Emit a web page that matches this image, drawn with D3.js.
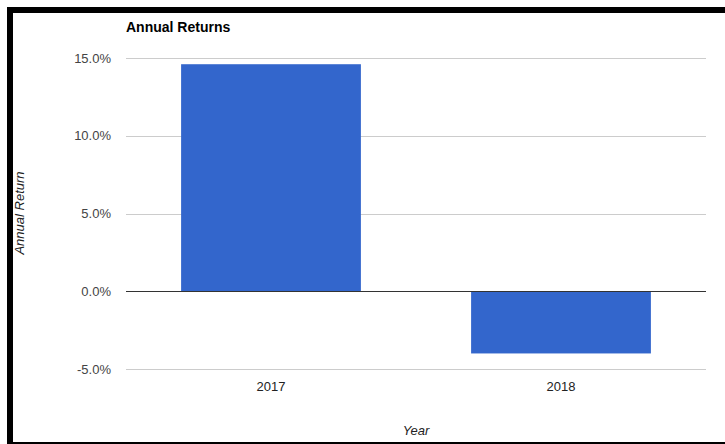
<!DOCTYPE html>
<html>
<head>
<meta charset="utf-8">
<script src="https://cdn.jsdelivr.net/npm/d3@7"></script>
<style>
    body { margin: 0; background: #fff; }
    text { font-family: "Liberation Sans", Arial, sans-serif; }
</style>
</head>
<body>
<div id="chart"></div>
<script>
// data
const years = ['2017', '2018'];
const returns = [0.146, -0.040];
const yTicks = [-0.05, 0, 0.05, 0.10, 0.15];

const width = 725, height = 444;
const margin = { top: 58, right: 19, bottom: 75, left: 126 };
const innerW = width - margin.left - margin.right;

const svg = d3.select('#chart').append('svg')
    .attr('width', width)
    .attr('height', height);

// frame round the picture (top, left, bottom)
svg.append('rect').attr('x', 7).attr('y', 7).attr('width', width - 7).attr('height', 6).attr('fill', '#000');
svg.append('rect').attr('x', 7).attr('y', 7).attr('width', 6).attr('height', height - 7).attr('fill', '#000');
svg.append('rect').attr('x', 7).attr('y', 442).attr('width', width - 7).attr('height', 2).attr('fill', '#000');

const xScale = d3.scaleBand()
    .domain(years)
    .range([margin.left, margin.left + innerW])
    .paddingInner(0.38)
    .paddingOuter(0.19);

const yScale = d3.scaleLinear()
    .domain([-0.05, 0.15])
    .range([369, 58]);

// gridlines
svg.append('g')
    .selectAll('line')
    .data(yTicks.filter(d => d !== 0))
    .join('line')
    .attr('x1', margin.left)
    .attr('x2', margin.left + innerW)
    .attr('y1', d => Math.round(yScale(d)) + 0.5)
    .attr('y2', d => Math.round(yScale(d)) + 0.5)
    .attr('stroke', '#ccc');

// bars
svg.append('g')
    .selectAll('rect')
    .data(years.map((y, i) => ({ year: y, value: returns[i] })))
    .join('rect')
    .attr('x', d => xScale(d.year))
    .attr('y', d => yScale(Math.max(0, d.value)))
    .attr('width', xScale.bandwidth())
    .attr('height', d => Math.abs(yScale(d.value) - yScale(0)))
    .attr('fill', '#3366cc');

// zero baseline
svg.append('line')
    .attr('x1', margin.left)
    .attr('x2', margin.left + innerW)
    .attr('y1', Math.round(yScale(0)) + 0.5)
    .attr('y2', Math.round(yScale(0)) + 0.5)
    .attr('stroke', '#333');

// y tick labels (plain hyphen for the minus, like the reference)
const fmt = d3.formatLocale({ decimal: '.', thousands: ',', grouping: [3], currency: ['$', ''], minus: '-' }).format('.1%');
svg.append('g')
    .selectAll('text')
    .data(yTicks)
    .join('text')
    .attr('x', 111)
    .attr('y', d => yScale(d) + 4.5)
    .attr('text-anchor', 'end')
    .style('font-size', '13px')
    .attr('fill', '#444')
    .text(d => fmt(d));

// x tick labels
svg.append('g')
    .selectAll('text')
    .data(years)
    .join('text')
    .attr('x', d => xScale(d) + xScale.bandwidth() / 2)
    .attr('y', 391)
    .attr('text-anchor', 'middle')
    .style('font-size', '13px')
    .attr('fill', '#222')
    .text(d => d);

// title
svg.append('text')
    .attr('x', 126)
    .attr('y', 32)
    .style('font-size', '14px')
    .style('font-weight', 'bold')
    .attr('fill', '#000')
    .text('Annual Returns');

// axis titles
svg.append('text')
    .attr('x', margin.left + innerW / 2)
    .attr('y', 435)
    .attr('text-anchor', 'middle')
    .style('font-size', '13px')
    .style('font-style', 'italic')
    .attr('fill', '#222')
    .text('Year');

svg.append('text')
    .attr('transform', 'translate(24,213) rotate(-90)')
    .attr('text-anchor', 'middle')
    .style('font-size', '13px')
    .style('font-style', 'italic')
    .attr('fill', '#222')
    .text('Annual Return');
</script>
</body>
</html>
